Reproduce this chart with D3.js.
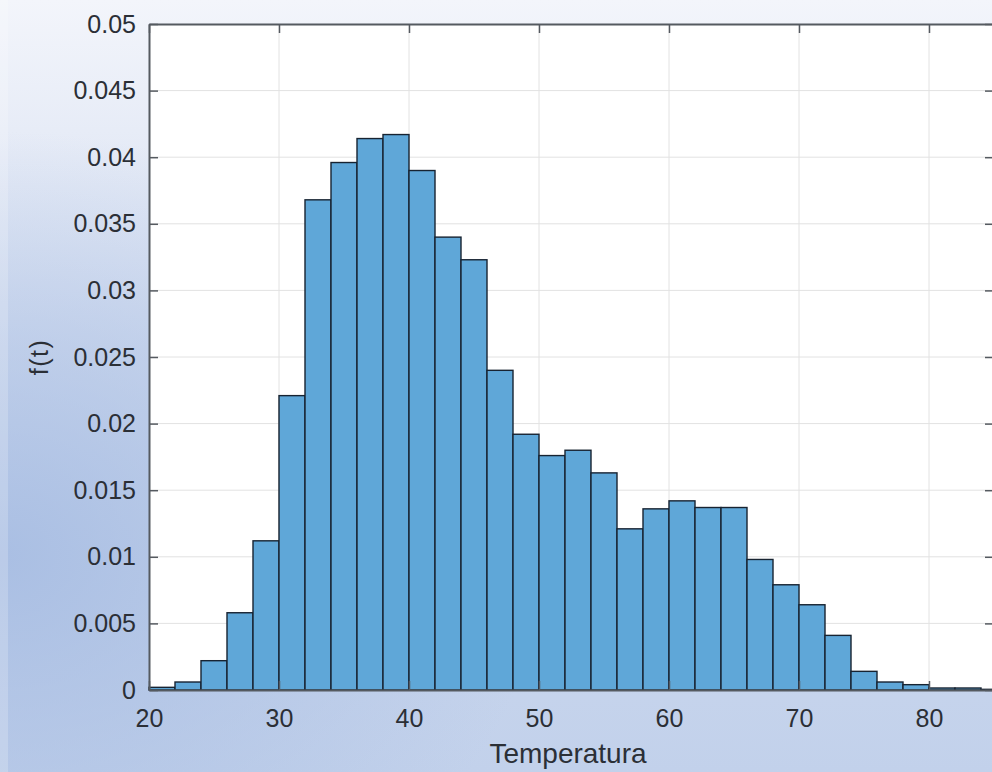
<!DOCTYPE html>
<html>
<head>
<meta charset="utf-8">
<title>Histograma f(t)</title>
<script src="https://cdn.jsdelivr.net/npm/d3@7"></script>
<style>
  body { margin: 0; }
  svg text { font-family: "Liberation Sans", Arial, sans-serif; fill: #2b2f36; }
</style>
</head>
<body>
<script>
// bins of width 2, starting at 20
var binStart = [20,22,24,26,28,30,32,34,36,38,40,42,44,46,48,50,52,54,56,58,60,62,64,66,68,70,72,74,76,78,80,82,84];
var density = [0.0002,0.0006,0.0022,0.0058,0.0112,0.0221,0.0368,0.0396,0.0414,0.0417,0.0390,0.0340,0.0323,
               0.0240,0.0192,0.0176,0.0180,0.0163,0.0121,0.0136,0.0142,0.0137,0.0137,0.0098,0.0079,0.0064,
               0.0041,0.0014,0.0006,0.0004,0.00015,0.00015,0.00005];
var binWidth = 2;
var xTicks = [20,30,40,50,60,70,80];
var yTicks = [0,0.005,0.01,0.015,0.02,0.025,0.03,0.035,0.04,0.045,0.05];

var width = 992, height = 772;
var mLeft = 149, mTop = 24, mRight = 994, mBottom = 690;

var x = d3.scaleLinear().domain([20, 85]).range([mLeft, mRight]);
var y = d3.scaleLinear().domain([0, 0.05]).range([mBottom, mTop]);

var svg = d3.select("body").append("svg")
    .attr("width", width).attr("height", height);

var defs = svg.append("defs");
var lg = defs.append("linearGradient").attr("id", "bg")
    .attr("x1", 0).attr("y1", 0).attr("x2", 0).attr("y2", 1);
lg.append("stop").attr("offset", "0%").attr("stop-color", "#f3f5fb");
lg.append("stop").attr("offset", "45%").attr("stop-color", "#d3ddf0");
lg.append("stop").attr("offset", "100%").attr("stop-color", "#c2d1eb");
var rg = defs.append("radialGradient").attr("id", "bgl")
    .attr("cx", 0).attr("cy", 0.72).attr("r", 0.55);
rg.append("stop").attr("offset", "0%").attr("stop-color", "#a6bce2").attr("stop-opacity", 0.9);
rg.append("stop").attr("offset", "100%").attr("stop-color", "#a6bce2").attr("stop-opacity", 0);

svg.append("rect").attr("width", width).attr("height", height).attr("fill", "url(#bg)");
svg.append("rect").attr("width", width).attr("height", height).attr("fill", "url(#bgl)");
svg.append("rect").attr("width", 8).attr("height", height).attr("fill", "#ffffff").attr("opacity", 0.2);

// plot area
svg.append("rect").attr("x", mLeft).attr("y", mTop)
    .attr("width", mRight - mLeft).attr("height", mBottom - mTop).attr("fill", "#ffffff");

// grid
svg.append("g").selectAll("line").data(yTicks.slice(1, -1)).enter().append("line")
    .attr("x1", mLeft).attr("x2", mRight)
    .attr("y1", function(d) { return y(d); }).attr("y2", function(d) { return y(d); })
    .attr("stroke", "#e2e2e2").attr("stroke-width", 1);
svg.append("g").selectAll("line").data(xTicks.slice(1)).enter().append("line")
    .attr("y1", mTop).attr("y2", mBottom)
    .attr("x1", function(d) { return x(d); }).attr("x2", function(d) { return x(d); })
    .attr("stroke", "#e2e2e2").attr("stroke-width", 1);

// bars
var bins = binStart.map(function(s, i) { return {x0: s, x1: s + binWidth, v: density[i]}; });
svg.append("g").selectAll("rect").data(bins).enter().append("rect")
    .attr("x", function(d) { return x(d.x0); })
    .attr("width", function(d) { return x(d.x1) - x(d.x0); })
    .attr("y", function(d) { return y(d.v); })
    .attr("height", function(d) { return y(0) - y(d.v); })
    .attr("fill", "#5fa7d8")
    .attr("stroke", "#172331")
    .attr("stroke-width", 1.4);

// axes (inward ticks, box)
var axisColor = "#555a60";
var xAxis = d3.axisBottom(x).tickValues(xTicks).tickSize(-9).tickPadding(19).tickSizeOuter(0);
var yAxis = d3.axisLeft(y).tickValues(yTicks).tickSize(-9).tickPadding(13).tickSizeOuter(0)
    .tickFormat(function(d) { return d3.format("")(+d.toFixed(3)); });

var gx = svg.append("g").attr("transform", "translate(0," + mBottom + ")").call(xAxis);
var gy = svg.append("g").attr("transform", "translate(" + mLeft + ",0)").call(yAxis);
var gxt = svg.append("g").attr("transform", "translate(0," + mTop + ")")
    .call(d3.axisTop(x).tickValues(xTicks).tickSize(-9).tickFormat("").tickSizeOuter(0));
var gyr = svg.append("g").attr("transform", "translate(" + mRight + ",0)")
    .call(d3.axisRight(y).tickValues(yTicks).tickSize(-9).tickFormat("").tickSizeOuter(0));

[gx, gy, gxt, gyr].forEach(function(g) {
    g.attr("font-size", 25).attr("font-family", null);
    g.select(".domain").attr("stroke", axisColor).attr("stroke-width", 2);
    g.selectAll(".tick line").attr("stroke", axisColor).attr("stroke-width", 1.5);
    g.selectAll(".tick text").attr("fill", "#2b2f36");
});

svg.append("text")
    .attr("x", 568).attr("y", 763)
    .attr("text-anchor", "middle").attr("font-size", 28)
    .text("Temperatura");

svg.append("text")
    .attr("transform", "translate(48,357) rotate(-90)")
    .attr("text-anchor", "middle").attr("font-size", 25)
    .attr("letter-spacing", 1.5)
    .text("f(t)");
</script>
</body>
</html>
